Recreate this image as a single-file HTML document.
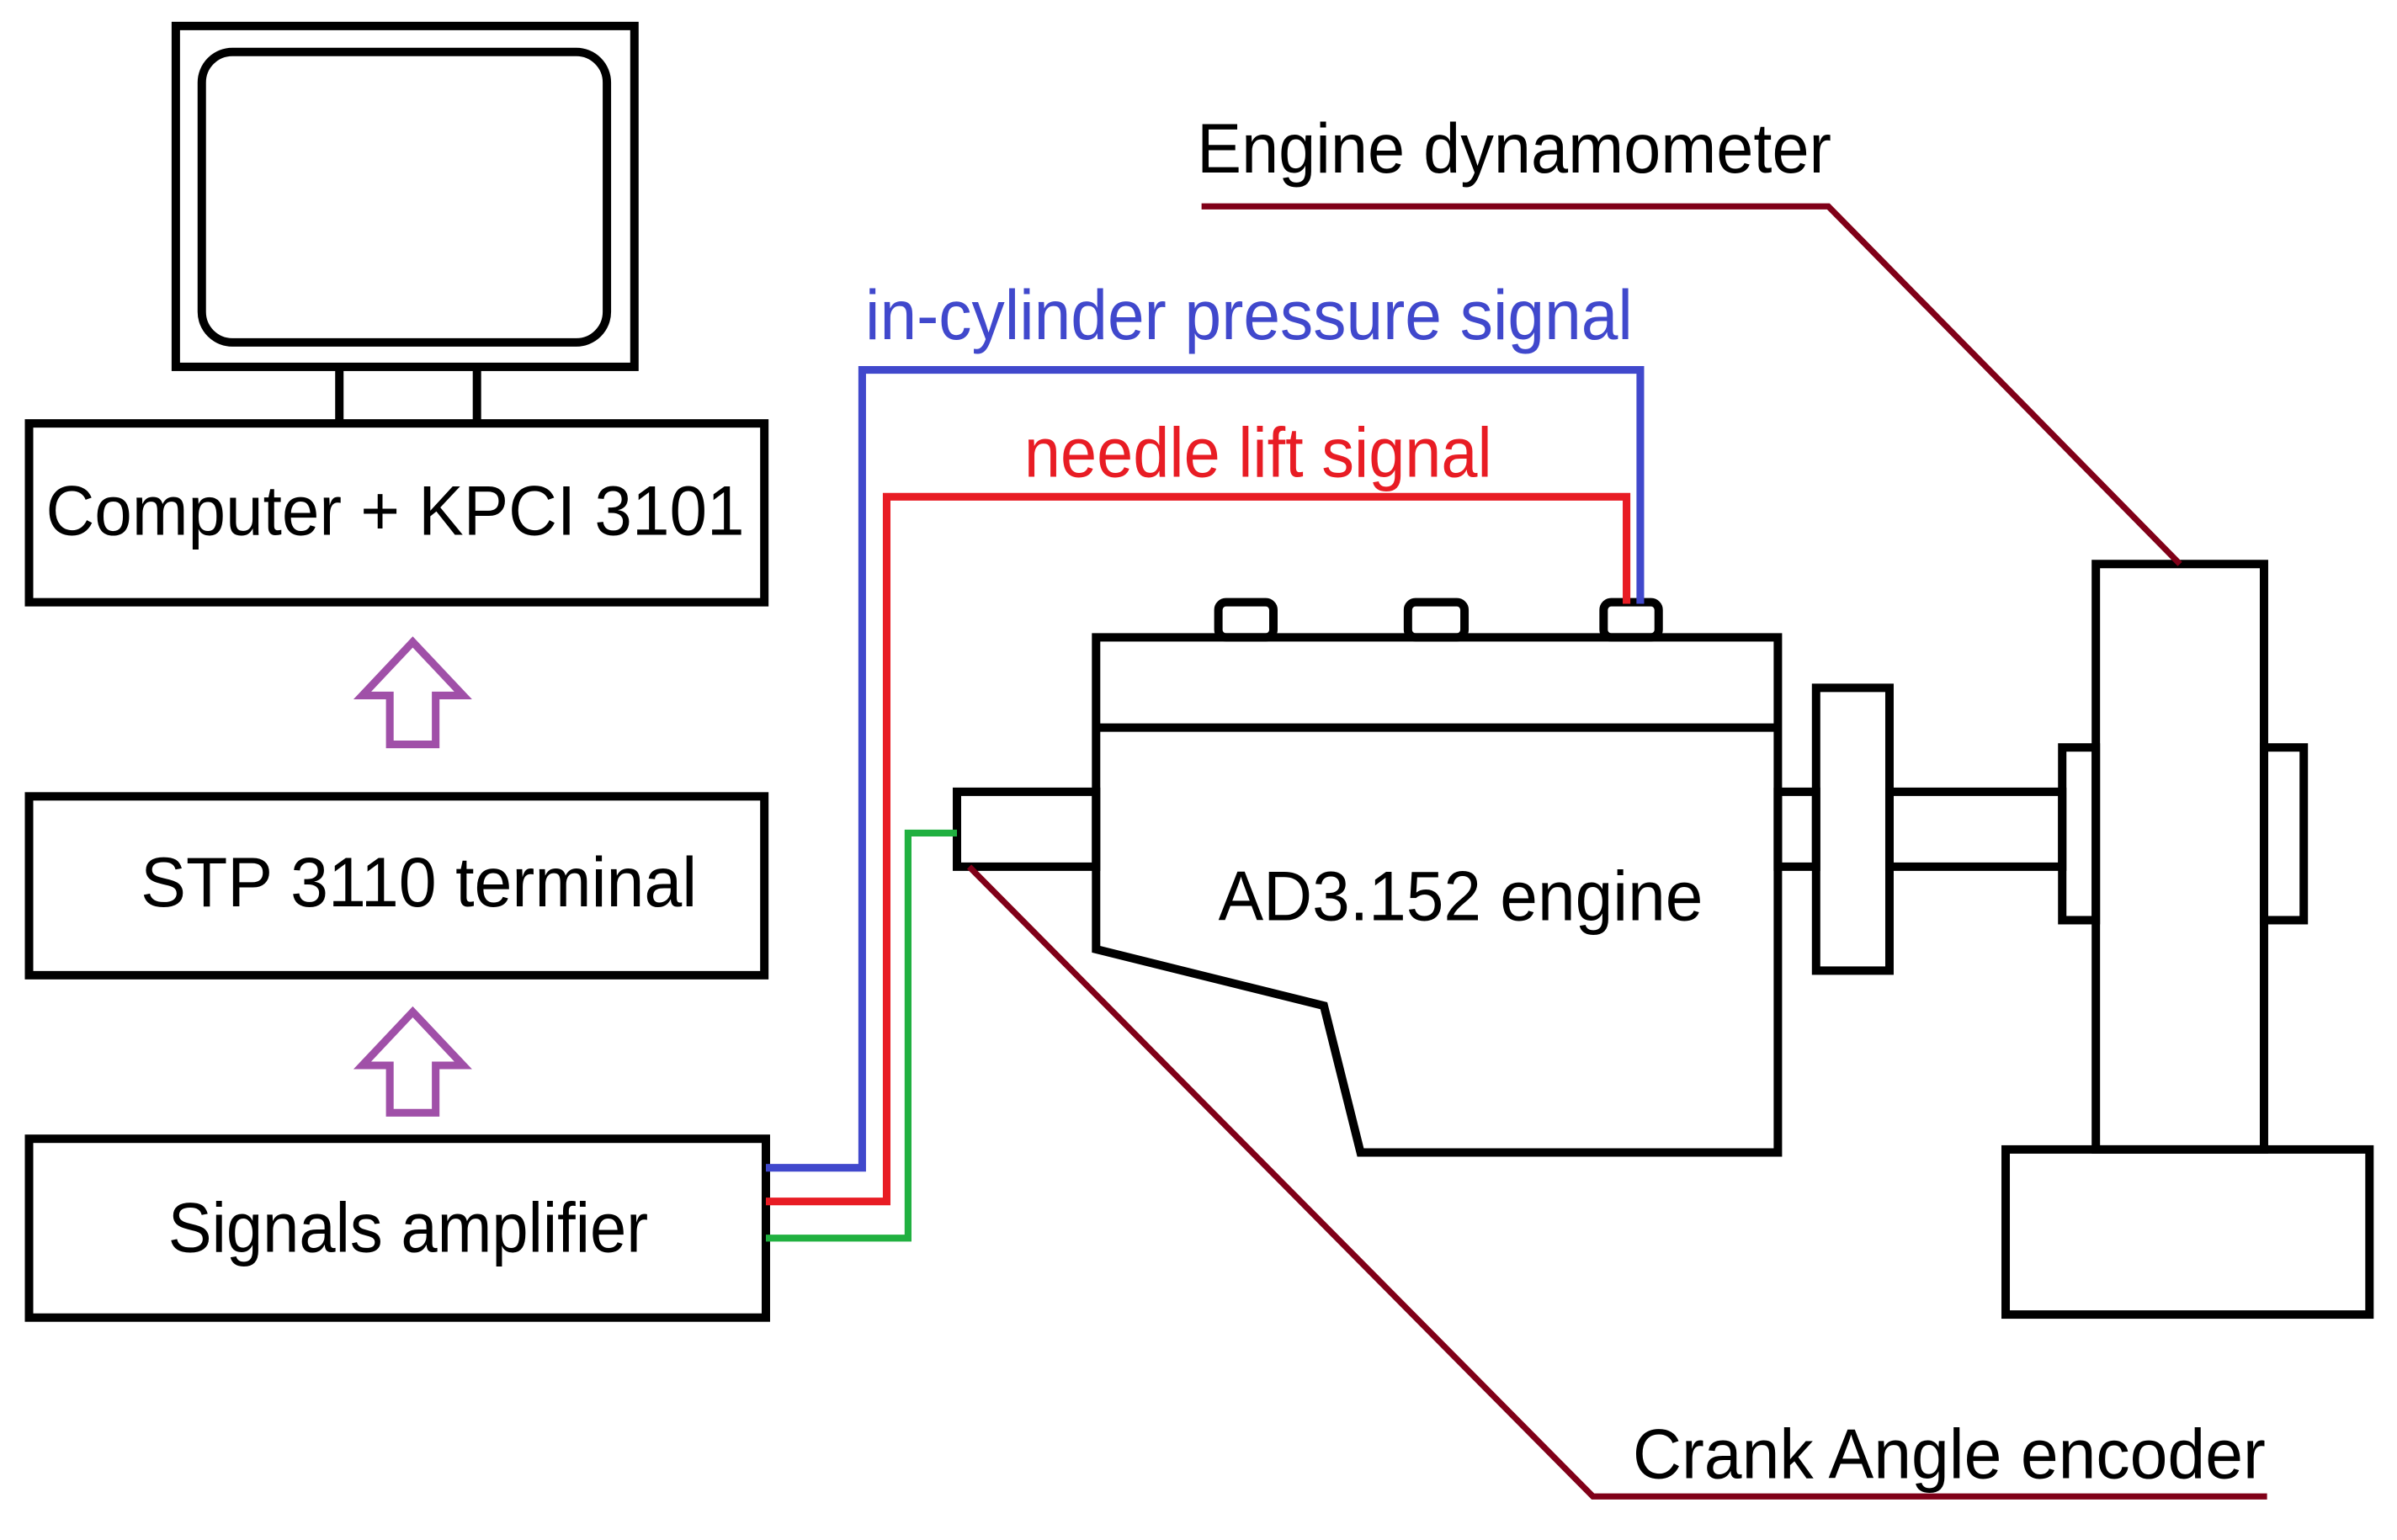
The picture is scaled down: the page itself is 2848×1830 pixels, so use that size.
<!DOCTYPE html>
<html><head><meta charset="utf-8"><style>html,body{margin:0;padding:0;background:#fff;width:2848px;height:1830px;overflow:hidden}svg{display:block}</style></head>
<body>
<svg width="2848" height="1830" viewBox="0 0 1568 1007.5" preserveAspectRatio="none" xmlns="http://www.w3.org/2000/svg" font-family="'Liberation Sans', Arial, sans-serif">
<g fill="none" stroke="#000" stroke-width="5.5">
<rect x="115" y="17" width="300" height="223"/>
<rect x="132" y="34" width="265" height="190" rx="20"/>
<line x1="222" y1="240" x2="222" y2="277"/>
<line x1="312" y1="240" x2="312" y2="277"/>
<rect x="19" y="277" width="481" height="117"/>
<rect x="19" y="521" width="481" height="117"/>
<rect x="19" y="745" width="482" height="117"/>
<rect x="797" y="394" width="36" height="23" rx="5"/>
<rect x="921" y="394" width="37" height="23" rx="5"/>
<rect x="1049" y="394" width="36" height="23" rx="5"/>
<path d="M717 417 H1163 V754 H890 L866 658 L717 621 Z"/>
<line x1="717" y1="476" x2="1163" y2="476"/>
<rect x="626" y="518" width="91" height="49"/>
<rect x="1163" y="518" width="25" height="49"/>
<rect x="1188" y="450" width="48" height="185"/>
<rect x="1236" y="518" width="113" height="49"/>
<rect x="1349" y="489" width="22" height="113"/>
<rect x="1371" y="369" width="110" height="383"/>
<rect x="1481" y="489" width="26" height="113"/>
<rect x="1312" y="752" width="238" height="108"/>
</g>
<g fill="none" stroke="#a050a8" stroke-width="5" stroke-linejoin="miter">
<path d="M270 420 L303 455 H285 V487 H255 V455 H237 Z"/>
<path d="M270 662 L303 697 H285 V728 H255 V697 H237 Z"/>
</g>
<path d="M501 764 H564 V242 H1073 V395" fill="none" stroke="#4048cc" stroke-width="5"/>
<path d="M501 786 H580 V325 H1064 V395" fill="none" stroke="#e81c24" stroke-width="5"/>
<path d="M501 810 H594 V545 H626" fill="none" stroke="#20b040" stroke-width="4.5"/>
<g fill="none" stroke="#800018" stroke-width="4">
<path d="M786 135 H1196 L1426 369"/>
<path d="M634 567 L1042 979 H1483"/>
</g>
<g font-size="46" fill="#000">
<text x="30" y="350" textLength="457" lengthAdjust="spacingAndGlyphs">Computer + KPCI 3101</text>
<text x="92" y="593" textLength="364" lengthAdjust="spacingAndGlyphs">STP 3110 terminal</text>
<text x="110" y="819" textLength="314" lengthAdjust="spacingAndGlyphs">Signals amplifier</text>
<text x="797" y="602" textLength="317" lengthAdjust="spacingAndGlyphs">AD3.152 engine</text>
<text x="783" y="113" textLength="415" lengthAdjust="spacingAndGlyphs">Engine dynamometer</text>
<text x="1068" y="967" textLength="414" lengthAdjust="spacingAndGlyphs">Crank Angle encoder</text>
<text x="566" y="222" textLength="502" lengthAdjust="spacingAndGlyphs" fill="#4048cc">in-cylinder pressure signal</text>
<text x="670" y="312" textLength="306" lengthAdjust="spacingAndGlyphs" fill="#e81c24">needle lift signal</text>
</g>
</svg>
</body></html>
